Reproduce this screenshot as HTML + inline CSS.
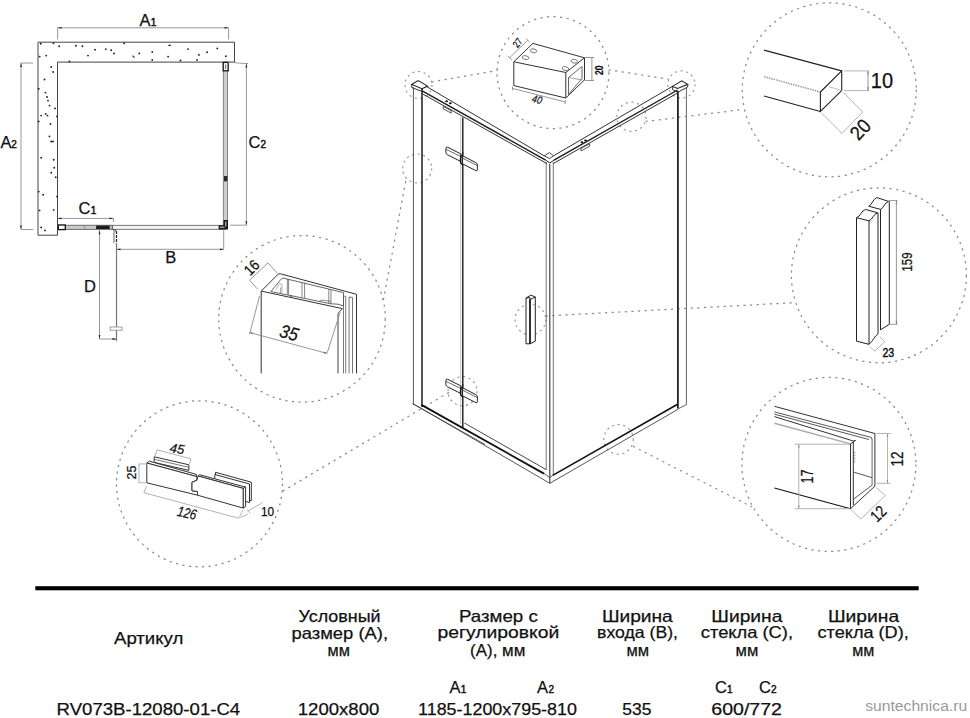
<!DOCTYPE html>
<html><head><meta charset="utf-8"><title>RV073B</title>
<style>
html,body{margin:0;padding:0;background:#fff;}
body{width:970px;height:718px;overflow:hidden;position:relative;}
svg{position:absolute;left:0;top:0;display:block;}
text{font-family:"Liberation Sans",sans-serif;fill:#111;stroke:#111;stroke-width:0.25px;}
.k{stroke:#222;stroke-width:1;fill:none;}
.kk{stroke:#111;stroke-width:1.5;fill:none;}
.g{stroke:#8c8c8c;stroke-width:0.9;fill:none;}
.lg{stroke:#aaa;stroke-width:0.9;fill:none;}
.d{stroke:#8a8a8a;stroke-width:1.25;fill:none;stroke-dasharray:2.2 4.4;}
.d2{stroke:#9a9a9a;stroke-width:1.2;fill:none;stroke-dasharray:2.1 3.6;}
.w{fill:#fff;}
.t{font-size:16.5px;}
.s{font-size:10px;stroke-width:0.45px;}
</style></head><body>
<svg width="970" height="718" viewBox="0 0 970 718">
<!-- ================= FLOOR PLAN ================= -->
<g id="plan">
  <path class="k" d="M38,42.2H234.5V62.1H57.5V235.2H38Z" style="stroke:#444"/>
  <g fill="#222" id="dots">
    <circle cx="40.8" cy="43.7" r="0.95"/><circle cx="53.4" cy="43.2" r="0.95"/><circle cx="59.2" cy="46.3" r="0.95"/>
    <circle cx="75.9" cy="45.8" r="0.95"/><circle cx="82.4" cy="46.3" r="0.95"/><circle cx="46.2" cy="55.6" r="0.95"/>
    <circle cx="39.7" cy="56.6" r="0.95"/><circle cx="88" cy="55.6" r="0.95"/><circle cx="95" cy="49.7" r="0.95"/>
    <circle cx="105.8" cy="49.1" r="0.95"/><circle cx="111.2" cy="50.2" r="0.95"/><circle cx="114" cy="53.4" r="0.95"/>
    <circle cx="124.2" cy="43.2" r="0.95"/><path d="M132.5,55.6l2,2" stroke="#222" stroke-width="1.1"/><circle cx="139.3" cy="53.4" r="0.95"/>
    <circle cx="152.3" cy="51.9" r="0.95"/><path d="M168.3,45.4h2.6" stroke="#222" stroke-width="1.2"/><circle cx="168.1" cy="56.6" r="0.95"/>
    <circle cx="152.3" cy="59.9" r="0.95"/><circle cx="180.5" cy="60.5" r="0.95"/><circle cx="188" cy="49.1" r="0.95"/>
    <circle cx="198.9" cy="54.9" r="0.95"/><circle cx="197.1" cy="59.9" r="0.95"/><circle cx="207.1" cy="52.3" r="0.95"/>
    <circle cx="217.3" cy="48.4" r="0.95"/><circle cx="225.9" cy="56.2" r="0.95"/><circle cx="69.4" cy="61.4" r="0.95"/>
    <circle cx="51.2" cy="67" r="0.95"/><circle cx="53.2" cy="72" r="0.95"/><circle cx="44.5" cy="79.5" r="0.95"/>
    <circle cx="38.7" cy="88.8" r="0.95"/><circle cx="45.5" cy="92.6" r="0.95"/><circle cx="47" cy="97" r="0.95"/>
    <circle cx="48" cy="100.6" r="0.95"/><circle cx="49.5" cy="105.6" r="0.95"/><circle cx="55" cy="108.4" r="0.95"/>
    <circle cx="41.2" cy="115.6" r="0.95"/><circle cx="45.7" cy="113.9" r="0.95"/><circle cx="47.5" cy="115.6" r="0.95"/>
    <circle cx="38.7" cy="121.4" r="0.95"/><circle cx="50.5" cy="124" r="0.95"/><circle cx="57" cy="116.4" r="0.95"/>
    <circle cx="49.5" cy="136.4" r="0.95"/><circle cx="51.2" cy="141.5" r="0.95"/><circle cx="53" cy="141.5" r="0.95"/>
    <circle cx="41.2" cy="157.7" r="0.95"/><circle cx="53.7" cy="159.7" r="0.95"/><circle cx="54.2" cy="167.8" r="0.95"/>
    <circle cx="51.2" cy="172.8" r="0.95"/><circle cx="55.7" cy="177.3" r="0.95"/><circle cx="38.7" cy="191.6" r="0.95"/>
    <circle cx="43.2" cy="194.8" r="0.95"/><circle cx="57" cy="196.6" r="0.95"/><circle cx="39.5" cy="210.4" r="0.95"/>
    <circle cx="53.7" cy="209.9" r="0.95"/><circle cx="41.2" cy="227.4" r="0.95"/><circle cx="45" cy="230.4" r="0.95"/>
  </g>
  <!-- A1 dimension -->
  <path class="g" d="M57.6,39.5V27.8H228.6V39.5"/>
  <path d="M57.6,27.8l4,-0.9v1.8z M228.6,27.8l-4,-0.9v1.8z" fill="#222"/>
  <text x="139.4" y="25.7" class="t">A</text><text x="150.8" y="25.7" class="s">1</text>
  <!-- A2 dimension -->
  <path class="g" d="M33,63H21V229.5H33"/>
  <path d="M21,63l-0.9,4h1.8z M21,229.5l-0.9,-4h1.8z" fill="#222"/>
  <text x="0.6" y="147.6" class="t">A</text><text x="11.2" y="147.6" class="s">2</text>
  <!-- right glass C2 -->
  <rect x="223.3" y="62.6" width="4.3" height="163" fill="#cfcfcf" stroke="#6e6e6e" stroke-width="0.8"/>
  <rect x="223.2" y="62.4" width="5" height="8.4" fill="#fff" stroke="#111" stroke-width="1.3"/>
  <path d="M225.7,64.5V69" stroke="#555" stroke-width="1"/>
  <rect x="224" y="176" width="3.3" height="5.4" fill="#2a2a2a"/>
  <path class="g" d="M228,62.3C236,62.3 238,63.5 248,63.5 M230.4,225.2H246.4 M246.4,63.5V225.2"/>
  <path d="M246.4,63.5l-0.9,4h1.8z M246.4,225.2l-0.9,-4h1.8z" fill="#222"/>
  <text x="248.4" y="148.1" class="t">C</text><text x="260.6" y="148.1" class="s">2</text>
  <!-- bottom glass C1 / B -->
  <rect x="58" y="225.3" width="167" height="4" fill="#f4f4f4" stroke="#5a5a5a" stroke-width="0.8"/>
  <rect x="58" y="225.3" width="54.3" height="4" fill="#cacaca" stroke="#6a6a6a" stroke-width="0.8"/>
  <rect x="58.3" y="225" width="7" height="4.6" fill="#fff" stroke="#111" stroke-width="1.3"/>
  <path d="M84.6,225.3V229.3" stroke="#888" stroke-width="0.8"/>
  <rect x="96.1" y="225.6" width="13.7" height="3.4" fill="#1c1c1c"/>
  <path d="M112.3,225.3V229.3" stroke="#555" stroke-width="0.8"/>
  <path d="M223.5,220.1H228V229.5H218.6V225.3H223.5Z" fill="#1a1a1a"/>
  <path d="M220,227.2H224.5M225.8,221.5V226.5" stroke="#ddd" stroke-width="1"/>
  <path class="g" d="M57.4,218.4H113.4V222"/>
  <path d="M57.4,218.4l4,-0.9v1.8z M113.4,218.4l-4,-0.9v1.8z" fill="#222"/>
  <text x="78.6" y="213.6" class="t">C</text><text x="90.8" y="213.6" class="s">1</text>
  <!-- door pivot -->
  <path d="M112.8,229.3L116.2,231" stroke="#222" stroke-width="1"/>
  <path d="M114,230.5V243" stroke="#aaa" stroke-width="1.8"/>
  <path d="M116.5,231V243.4" stroke="#222" stroke-width="1.2" stroke-dasharray="3 1"/>
  <path class="g" d="M116.5,243V249.3H223.7V229.5"/>
  <path d="M116.5,249.3l4,-0.9v1.8z M224,249.3l-4,-0.9v1.8z" fill="#222"/>
  <text x="165.3" y="263.4" class="t">B</text>
  <!-- D -->
  <path class="g" d="M99.5,230.3V339H116.5"/>
  <path d="M99.5,230.3l-0.9,4h1.8z M99.5,339l-0.9,-4h1.8z M116.5,339l-4,-0.9v1.8z" fill="#222"/>
  <path d="M116.5,243V341" stroke="#777" stroke-width="1.2"/>
  <rect x="110.2" y="327" width="11.8" height="3.2" fill="#fff" stroke="#888" stroke-width="0.8"/>
  <text x="83.9" y="292" class="t">D</text>
</g>

<!-- ================= DASHED CALLOUTS ================= -->
<g class="d" id="dashes">
  <circle cx="553" cy="72.6" r="56"/>
  <circle class="d2" cx="418.5" cy="85" r="13.5"/>
  <circle class="d2" cx="681.5" cy="84.5" r="13.6"/>
  <circle class="d2" cx="631.4" cy="116.8" r="14.6"/>
  <circle class="d2" cx="417.2" cy="168.5" r="14.5"/>
  <circle class="d2" cx="462.5" cy="391.2" r="14.5"/>
  <circle class="d2" cx="530.4" cy="319.5" r="15.3"/>
  <circle class="d2" cx="618.5" cy="439.4" r="14.8"/>
  <circle cx="829.3" cy="89.8" r="87"/>
  <circle cx="878.9" cy="275.3" r="87.5"/>
  <circle cx="828.9" cy="464.4" r="87"/>
  <circle cx="302" cy="318.8" r="83.3"/>
  <circle cx="199.5" cy="483.8" r="83"/>
  <path d="M431.5,82L497.5,70.5"/>
  <path d="M608.6,69.8L668.5,79.2"/>
  <path d="M645.5,121.5L742.5,109.5"/>
  <path d="M405.7,181.2L383.4,300"/>
  <path d="M449,392.3L282.4,491.4"/>
  <path d="M545.7,316L794,302.7"/>
  <path d="M633,446.3L752.1,507"/>
</g>

<!-- ================= SHOWER ================= -->
<g id="shower">
  <!-- left post -->
  <path d="M413.4,87V404.8" stroke="#555" stroke-width="1"/>
  <path d="M422,89V407" stroke="#2a2a2a" stroke-width="1.6"/>
  <path d="M411.7,84.5L418.1,80.6L427.6,86.1L422,88.7Z" fill="#fff" stroke="#222" stroke-width="1.1"/>
  <path d="M411.7,84.5V87.5L422,91.5V88.7" fill="none" stroke="#333" stroke-width="1"/>
  <!-- top left rail -->
  <path d="M426.5,86.5L544.1,155.8" stroke="#333" stroke-width="1"/>
  <path d="M422.2,90.8L545.6,160.1" stroke="#1c1c1c" stroke-width="1.4"/>
  <path d="M422.2,93.7L547,163.7" stroke="#333" stroke-width="1"/>
  <!-- right post -->
  <path d="M677.9,91V408.5" stroke="#222" stroke-width="1.8"/>
  <path d="M686.4,88V404.7L678,408.9" fill="none" stroke="#666" stroke-width="1"/>
  <path d="M672.4,86.4L681.8,80.8L687.7,84.3L677.6,88.4Z" fill="#fff" stroke="#222" stroke-width="1.1"/>
  <path d="M672.4,86.4V89.5L677.6,92.3L687.7,87V84.3" fill="none" stroke="#333" stroke-width="1"/>
  <!-- top right rail -->
  <path d="M672.4,86.4L553.5,155.8" stroke="#333" stroke-width="1"/>
  <path d="M677.6,90L554,160.1" stroke="#1c1c1c" stroke-width="1.4"/>
  <path d="M677.6,93L553,163.7" stroke="#333" stroke-width="1"/>
  <!-- corner -->
  <path d="M544.1,155.8L549.5,152.6L553.5,155.8L549.8,158.5Z" fill="#fff" stroke="#333" stroke-width="0.9"/>
  <path d="M545.6,160.1L549.8,163L554,160.1" fill="none" stroke="#222" stroke-width="1"/>
  <!-- front post -->
  <path d="M546.2,162V470M553.3,162V475" stroke="#666" stroke-width="0.9" fill="none"/>
  <path d="M549.8,164V483.3" stroke="#333" stroke-width="1.1"/>
  <!-- bottom rails -->
  <path d="M421.5,404.9L544,473.6" stroke="#111" stroke-width="1.8"/>
  <path d="M464.4,423L546.2,469.6" stroke="#333" stroke-width="0.9"/>
  <path d="M412.8,403.7L421.5,408.6L549.8,483.3M412.8,403.7L485,444.5" stroke="#444" stroke-width="0.9" fill="none"/>
  <path d="M552.7,475.4L677.6,404.3" stroke="#111" stroke-width="1.6"/>
  <path d="M549.8,483.3L678,409.3" stroke="#444" stroke-width="0.9"/>
  <path d="M544,473.6L549.8,477.5L552.7,475.4" stroke="#333" stroke-width="0.8" fill="none"/>
  <!-- door edge -->
  <path d="M460.7,116.8V424" stroke="#c0c0c0" stroke-width="0.9"/>
  <path d="M462.8,117.5V427" stroke="#1a1a1a" stroke-width="1.4"/>
  <!-- hinges -->
  <g fill="#fff" stroke="#222" stroke-width="1" stroke-linejoin="round">
    <path d="M447.5,379.2L460.8,385.9V393.5L447.5,386.8Q445.9,386 445.9,384.4V381Q445.9,378.4 447.5,379.2Z"/>
    <path d="M446.3,381.4L460.8,388.6" fill="none" stroke="#444" stroke-width="0.8"/>
    <path d="M462.6,387.8L475.8,394.6Q477.4,395.4 477.4,397V401.4Q477.4,403.4 475.8,402.6L462.6,395.9Z"/>
    <path d="M462.6,390.2L477,397.4" fill="none" stroke="#444" stroke-width="0.8"/>
    <path d="M462.8,384.5Q462.8,387 461,388.5Q460.3,390 460.6,394Q461,396 462.8,397" fill="none" stroke="#111" stroke-width="1.4"/>
  </g>
  <g transform="translate(0,-232)" fill="#fff" stroke="#222" stroke-width="1" stroke-linejoin="round">
    <path d="M447.5,379.2L460.8,385.9V393.5L447.5,386.8Q445.9,386 445.9,384.4V381Q445.9,378.4 447.5,379.2Z"/>
    <path d="M446.3,381.4L460.8,388.6" fill="none" stroke="#444" stroke-width="0.8"/>
    <path d="M462.6,387.8L475.8,394.6Q477.4,395.4 477.4,397V401.4Q477.4,403.4 475.8,402.6L462.6,395.9Z"/>
    <path d="M462.6,390.2L477,397.4" fill="none" stroke="#444" stroke-width="0.8"/>
    <path d="M462.8,384.5Q462.8,387 461,388.5Q460.3,390 460.6,394Q461,396 462.8,397" fill="none" stroke="#111" stroke-width="1.4"/>
  </g>
  <!-- rail fittings -->
  <ellipse cx="446.6" cy="101.3" rx="1.4" ry="1" fill="#111"/><ellipse cx="450.3" cy="103.3" rx="1.4" ry="1" fill="#111"/>
  <path d="M443.3,106.4L451.2,110.8V113.2L443.3,108.8Z" fill="#fff" stroke="#444" stroke-width="0.9"/>
  <ellipse cx="581.9" cy="142.3" rx="1.4" ry="1" fill="#111"/><ellipse cx="585.5" cy="140.4" rx="1.4" ry="1" fill="#111"/>
  <path d="M581,148.5L589.6,143.8V146.3L581,151Z" fill="#fff" stroke="#444" stroke-width="0.9"/>
  <!-- handle -->
  <path d="M526,298V343.8L530,343.8V297.6ZM526,298L530.8,295.1L535.3,297L530,299.6M535.3,297V341.2L530,343.8" fill="#fff" stroke="#222" stroke-width="1"/>
  <path d="M530,299.6V343.8" stroke="#111" stroke-width="1.5"/>
</g>

<!-- ================= DETAIL: BOX 40x20x27 ================= -->
<g id="box">
  <path d="M532.9,43.4L584.5,57.8L565.8,72.5L513.8,61.8Z" fill="#fff" stroke="#333" stroke-width="1"/>
  <path d="M513.8,61.8V85.6L565.8,98V72.5" fill="none" stroke="#333" stroke-width="1"/>
  <path d="M565.8,98L584.5,79.9V57.8" fill="none" stroke="#333" stroke-width="1"/>
  <path d="M568.5,77.5L582,66.5V78.5L568.5,94.5Z" fill="none" stroke="#555" stroke-width="0.9"/>
  <path d="M568.5,77.5L582.5,80" stroke="#777" stroke-width="0.7"/>
  <g fill="none" stroke="#666" stroke-width="0.8">
    <ellipse cx="533.5" cy="50.8" rx="3.3" ry="1.9" transform="rotate(12 533.5 50.8)"/>
    <ellipse cx="525.5" cy="57.6" rx="3.3" ry="1.9" transform="rotate(12 525.5 57.6)"/>
    <ellipse cx="574.3" cy="61.2" rx="3.3" ry="1.9" transform="rotate(12 574.3 61.2)"/>
    <ellipse cx="565.5" cy="68.6" rx="3.3" ry="1.9" transform="rotate(12 565.5 68.6)"/>
  </g>
  <path class="g" d="M509.6,57.8L527.8,40.2M507.8,56L512,60M526,38.5L530,42.4"/>
  <path class="g" d="M591.9,57.2V81M584.5,57.5H594M584.5,80.5H594"/>
  <path class="g" d="M512.5,88.4L565.2,102M512.5,86.4V90.4M565.2,100V104"/>
  <text font-size="10" transform="translate(517.5,48.5) rotate(-52)" textLength="9" lengthAdjust="spacingAndGlyphs">27</text>
  <text font-size="10.5" font-weight="bold" transform="translate(602.6,75) rotate(-90)" textLength="9.6" lengthAdjust="spacingAndGlyphs">20</text>
  <text font-size="10.5" font-style="italic" transform="translate(531.3,101.8) rotate(14)" textLength="10" lengthAdjust="spacingAndGlyphs">40</text>
</g>

<!-- ================= DETAIL: 10x20 PROFILE ================= -->
<g id="prof1">
  <path d="M764,50.1L841.7,70.9" stroke="#222" stroke-width="1.1"/>
  <path d="M764,96L820.4,111.5" stroke="#222" stroke-width="1.1"/>
  <path d="M764,76.6L820.4,92" stroke="#999" stroke-width="1.5" stroke-dasharray="1.5 1"/>
  <path d="M820.4,92L841.7,70.9V90.6L820.4,111.5Z" fill="#fff" stroke="#222" stroke-width="1.1"/>
  <path d="M829,86.6L841.7,90.6" stroke="#999" stroke-width="0.7"/>
  <path class="lg" d="M844,70.9H869.2M844,90.6H869.2"/>
  <path class="g" d="M868,71V90.5"/>
  <path d="M868,71l-0.8,3.2h1.6zM868,90.5l-0.8,-3.2h1.6z" fill="#777"/>
  <path class="lg" d="M821.5,113L842,133.4M843.5,92.5L862.7,112.1M842,133.4L862.7,112.1"/>
  <text x="870.8" y="88.3" font-size="21.3" textLength="22.3" lengthAdjust="spacingAndGlyphs">10</text>
  <text font-size="20" transform="translate(858.6,141.6) rotate(-47)" textLength="20" lengthAdjust="spacingAndGlyphs">20</text>
</g>

<!-- ================= DETAIL: HANDLE 159 ================= -->
<g id="handle2" fill="#fff" stroke="#222" stroke-width="1">
  <!-- back bar -->
  <path d="M868.7,206.2C872,205 873,199 876.7,197.5L888.5,201.4C884.5,202.5 884,208 880.5,209.4Z"/>
  <path d="M880.5,209.4V329.9L889.3,324.3V201.4" fill="none"/>
  <!-- front bar -->
  <path d="M856.5,217.7C860.5,216.5 861.5,210.5 865.5,209.4L877.7,212.8C873.5,214 872.5,219.5 869,220.8Z"/>
  <path d="M856.5,217.7V341.2L869,344.3C873,341 874.5,336 878,333.9V212.8M869,220.8V344.3" fill="none"/>
</g>
<path class="g" d="M888.5,200.6H897.5M889.3,324.3H897.5M896.4,200.6V324.3"/>
<path d="M896.4,200.6l-0.8,3.2h1.6zM896.4,324.3l-0.8,-3.2h1.6z" fill="#777"/>
<path class="lg" d="M870.3,347.1L874.9,351.1L884.8,341.6L879.8,336.7"/>
<text font-size="14.5" transform="translate(911.6,271.5) rotate(-90)" textLength="19" lengthAdjust="spacingAndGlyphs">159</text>
<text x="882.4" y="356.6" font-size="12.6" style="stroke-width:0.45px" textLength="11.8" lengthAdjust="spacingAndGlyphs">23</text>

<!-- ================= DETAIL: U CHANNEL ================= -->
<g id="uch">
  <path d="M774.4,406.3L874.9,433.5V486.1L850.5,508.7" fill="none" stroke="#333" stroke-width="1"/>
  <path d="M774.4,411.9L871.5,437.5L872.2,440.2" fill="none" stroke="#444" stroke-width="0.9"/>
  <path d="M774.4,414.2L869,439.5" fill="none" stroke="#444" stroke-width="0.9"/>
  <path d="M774.4,416.6L853.3,441" fill="none" stroke="#333" stroke-width="1"/>
  <path d="M774.4,423.2L850.5,443.9" fill="none" stroke="#aaa" stroke-width="1.4"/>
  <path d="M850.5,443.9L855.5,440.5L853.3,441" fill="none" stroke="#333" stroke-width="1"/>
  <path d="M872.1,440V485.2" stroke="#555" stroke-width="0.9"/>
  <path d="M850.5,443.9V508.7M853.3,442V505" fill="none" stroke="#333" stroke-width="1"/>
  <path d="M853.3,472L872.1,477.7M853.3,499.3L872.1,485.2" fill="none" stroke="#444" stroke-width="0.9"/>
  <path d="M853.3,451l1.5,1.5-1.5,1.5 1.5,1.5-1.5,1.5 1.5,1.5-1.5,1.5 1.5,1.5-1.5,1.5" fill="none" stroke="#555" stroke-width="0.7"/>
  <path d="M774.4,488L850.5,508.7" stroke="#111" stroke-width="1.1"/>
  <path class="lg" d="M795,444.2H850M795,508.7H850M798.8,444.2V508.7"/>
  <path d="M798.8,444.2l-0.8,3.2h1.6zM798.8,508.7l-0.8,-3.2h1.6z" fill="#888"/>
  <path class="lg" d="M876.5,433.5H890.5M876.5,483.3H890.5M887.5,433.5V483.3"/>
  <path d="M887.5,433.5l-0.8,3.2h1.6zM887.5,483.3l-0.8,-3.2h1.6z" fill="#888"/>
  <path class="lg" d="M851.5,510L860.8,519M876,487.5L885.3,495.5M860.8,519L885.3,495.5"/>
  <text font-size="16.5" transform="translate(812.9,483.5) rotate(-90)" textLength="14.2" lengthAdjust="spacingAndGlyphs">17</text>
  <text font-size="16.5" transform="translate(903.1,466.4) rotate(-90)" textLength="15" lengthAdjust="spacingAndGlyphs">12</text>
  <text font-size="16.5" transform="translate(877,523) rotate(-45)" textLength="15" lengthAdjust="spacingAndGlyphs">12</text>
</g>

<!-- ================= DETAIL: PROFILE 16x35 ================= -->
<g id="prof2" fill="none" stroke="#333" stroke-width="1" stroke-linejoin="round">
  <path d="M261.2,373.4V291.1L277.8,274.5Q278.8,273.3 280.5,273.8L356.5,294.3V373.4" fill="#fff"/>
  <path d="M261.2,291.1L342.3,308.6"/>
  <path d="M342.3,308.6L338,313.5V373.4" stroke="#444"/>
  <path d="M270.9,291.6L281,279.2Q282.2,277.8 284,278.3L331,289.6" stroke="#555" stroke-width="0.9"/>
  <path d="M270.9,291.6L331,303.8L338,304.2L343.5,306" stroke="#555" stroke-width="0.9"/>
  <path d="M319,301.5Q321,299.3 324.5,300.3L331,301.5" stroke="#666" stroke-width="0.8"/>
  <path d="M287.3,279V294.5M288.6,279.4V294.8M302,282V298M304.6,282.6V298.6M328.8,289V303.4M331,289.6V303.8" stroke="#666" stroke-width="0.8"/>
  <path d="M276,289.5L279.5,283.5L282,284.6V292.8M280.5,287.5V293" stroke="#888" stroke-width="0.7"/>
  <path d="M291,295.2V297.5" stroke="#444" stroke-width="1.2"/>
  <path d="M331,289.6L343.5,292.6V306" stroke="#555" stroke-width="0.9"/>
  <path d="M343.5,297V373.4M345.7,296.5V373.4M349.1,297V373.4M352.5,297.5V373.4" stroke="#555" stroke-width="0.8"/>
  <path d="M343.5,297Q344.6,295.5 345.7,296.5M349.1,297L352.5,297.5" stroke="#555" stroke-width="0.8"/>
</g>
<path class="g" d="M259.5,296L249.6,334.2M340.1,312.4L327,353.4M249.6,332.5L327,353.4"/>
<path d="M249.6,332.5l3.3,0.2-0.6,1.6zM327,353.4l-3.3,-0.2 0.6,-1.6z" fill="#666"/>
<path class="g" d="M249.6,280.2L267.9,262.8M249.6,280.2L257.4,289M267.9,262.8L277.4,273.3"/>
<text font-size="18.5" font-style="italic" transform="translate(278.5,336.5) rotate(15)" textLength="18.5" lengthAdjust="spacingAndGlyphs">35</text>
<text font-size="15" transform="translate(250,276.5) rotate(-45)" textLength="15" lengthAdjust="spacingAndGlyphs">16</text>

<!-- ================= DETAIL: CONNECTOR 126 ================= -->
<g id="conn" fill="#fff" stroke="#333" stroke-width="1" stroke-linejoin="round">
  <!-- left back plate -->
  <path d="M154.2,456.8L188.9,464.8V470.4L154.2,462.4Z"/>
  <path d="M154.2,459.3L188.9,467.3" fill="none" stroke="#555" stroke-width="0.8"/>
  <!-- right back plates -->
  <path d="M215.5,472.3L251.3,482.2V500.7L215.5,490.8Z"/>
  <path d="M214.8,474.5L249.5,484V502.5L214.8,493Z"/>
  <!-- left front plate -->
  <path d="M149.3,461.2L196.5,474.4L196.9,476.6L146.8,463Z"/>
  <path d="M146.8,463V482.8L197.5,495.2V491.4L192,490.8V482.2L196.9,480.3V476.6Z"/>
  <!-- right front plate -->
  <path d="M199.4,474.7L245.6,487.1L243.3,488.4L198.1,476Z"/>
  <path d="M198.1,476L243.3,488.4V508.1L197.5,495.2V491.4L192,490.8V482.2L196.9,480.3Z"/>
  <path d="M243.3,488.4L245.6,487.1V506.6L243.3,508.1Z"/>
</g>
<path class="lg" d="M157.1,449.8L190.9,458.9M157.1,449.8L155,456M190.9,458.9L189.5,464"/>
<path class="lg" d="M139,463.9V482.8M139,463.9H147M139,482.8H147"/>
<path class="lg" d="M143.9,492.7L238.8,518.3M146.5,486L143.9,492.7M243,510L238.8,518.3"/>
<path class="lg" d="M240.4,517.5L247.8,514.2M247.8,510.9L262.7,502.6M247,509.5L250,513"/>
<text font-size="13" font-style="italic" transform="translate(169.3,452.3) rotate(8)" textLength="14.5" lengthAdjust="spacingAndGlyphs">45</text>
<text font-size="13" transform="translate(135.7,479.5) rotate(-90)" textLength="14" lengthAdjust="spacingAndGlyphs">25</text>
<text font-size="14.5" font-style="italic" transform="translate(176.4,515.8) rotate(12)" textLength="19.5" lengthAdjust="spacingAndGlyphs">126</text>
<text x="261" y="515.8" font-size="12.2" textLength="13.2" lengthAdjust="spacingAndGlyphs">10</text>

<!-- ================= TABLE ================= -->
<rect x="35.3" y="586.2" width="883.4" height="4.1" fill="#000"/>
<g class="t" font-size="16.5" style="stroke-width:0.3px">
  <text x="114" y="644.3" textLength="69.3" lengthAdjust="spacingAndGlyphs">Артикул</text>

  <text x="298.6" y="621.5" textLength="82" lengthAdjust="spacingAndGlyphs">Условный</text>
  <text x="291.5" y="638.8" textLength="96.5" lengthAdjust="spacingAndGlyphs">размер (А),</text>
  <text x="327.6" y="655.5" textLength="22.4" lengthAdjust="spacingAndGlyphs">мм</text>

  <text x="459" y="621.8" textLength="78.8" lengthAdjust="spacingAndGlyphs">Размер с</text>
  <text x="437.6" y="638.3" textLength="121.6" lengthAdjust="spacingAndGlyphs">регулировкой</text>
  <text x="470.1" y="655.6" textLength="55.3" lengthAdjust="spacingAndGlyphs">(А), мм</text>

  <text x="601.9" y="621.8" textLength="70.9" lengthAdjust="spacingAndGlyphs">Ширина</text>
  <text x="597.1" y="638.3" textLength="80.9" lengthAdjust="spacingAndGlyphs">входа (В),</text>
  <text x="626.4" y="655.6" textLength="22.6" lengthAdjust="spacingAndGlyphs">мм</text>

  <text x="711.3" y="621.8" textLength="71.1" lengthAdjust="spacingAndGlyphs">Ширина</text>
  <text x="700.8" y="638.3" textLength="92.2" lengthAdjust="spacingAndGlyphs">стекла (С),</text>
  <text x="735.5" y="655.6" textLength="22.8" lengthAdjust="spacingAndGlyphs">мм</text>

  <text x="828" y="621.8" textLength="71.1" lengthAdjust="spacingAndGlyphs">Ширина</text>
  <text x="817.5" y="638.3" textLength="91.3" lengthAdjust="spacingAndGlyphs">стекла (D),</text>
  <text x="852.2" y="655.6" textLength="22.2" lengthAdjust="spacingAndGlyphs">мм</text>

  <text x="449.5" y="693.1">A</text><text x="460.8" y="693.1" class="s">1</text>
  <text x="537.1" y="693.1">A</text><text x="548.4" y="693.1" class="s">2</text>
  <text x="715" y="693.1">C</text><text x="727" y="693.1" class="s">1</text>
  <text x="759" y="693.1">C</text><text x="771" y="693.1" class="s">2</text>

  <text x="56.6" y="714.8" textLength="183.6" lengthAdjust="spacingAndGlyphs">RV073B-12080-01-C4</text>
  <text x="297.8" y="714.8" textLength="81.5" lengthAdjust="spacingAndGlyphs">1200x800</text>
  <text x="418.1" y="714.8" textLength="158.8" lengthAdjust="spacingAndGlyphs">1185-1200x795-810</text>
  <text x="622.3" y="714.8" textLength="29.1" lengthAdjust="spacingAndGlyphs">535</text>
  <text x="711.3" y="714.8" textLength="70.6" lengthAdjust="spacingAndGlyphs">600/772</text>
</g>
<text x="865.2" y="711.3" font-size="14" style="fill:#9a9a9a;stroke:none" textLength="102" lengthAdjust="spacingAndGlyphs">suntechnica.ru</text>

</svg>
</body></html>
